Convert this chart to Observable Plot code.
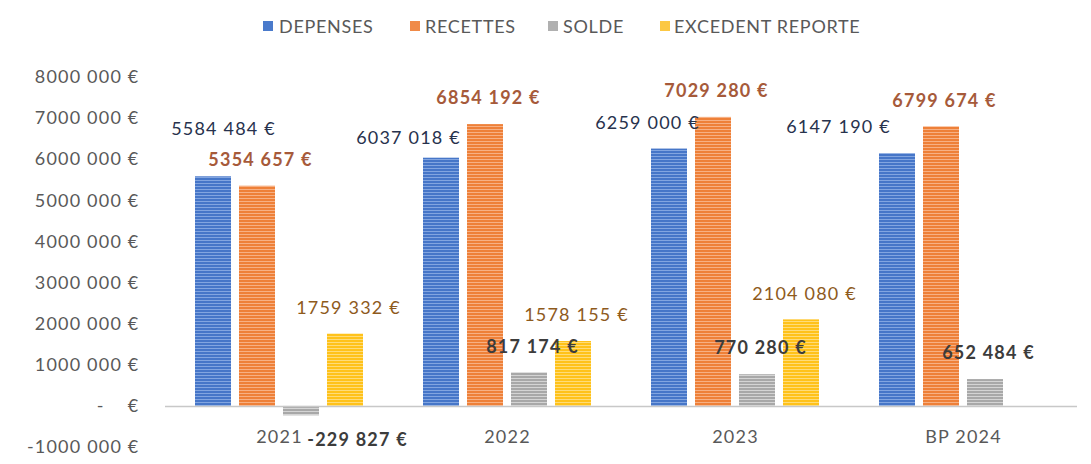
<!DOCTYPE html>
<html>
<head>
<meta charset="utf-8">
<script src="https://cdn.jsdelivr.net/npm/d3@7"></script>
<script src="https://cdn.jsdelivr.net/npm/@observablehq/plot@0.6"></script>
<style>
  html, body { margin: 0; padding: 0; background: #fff; }
  #wrap { position: relative; width: 1091px; height: 464px; overflow: hidden; }
  #legend { position: relative; height: 52px; font-family: Lato, sans-serif; font-size: 18px; color: #595959; }
  .item { position: absolute; top: 15px; display: flex; align-items: center; white-space: nowrap; letter-spacing: 0.7px; }
  .sw { width: 10px; height: 10px; margin-right: 6px; }
  svg text { letter-spacing: 1.2px; }
</style>
</head>
<body>
<div id="wrap">
  <div id="legend"></div>
  <div id="chart"></div>
</div>
<script>
// ---- data ----
const years = ["2021", "2022", "2023", "BP 2024"];
const series = ["DEPENSES", "RECETTES", "SOLDE", "EXCEDENT REPORTE"];
const depenses = [5584484, 6037018, 6259000, 6147190];
const recettes = [5354657, 6854192, 7029280, 6799674];
const solde = [-229827, 817174, 770280, 652484];
const excedent = [1759332, 1578155, 2104080, null];
const yTicks = [-1000000, 0, 1000000, 2000000, 3000000, 4000000, 5000000, 6000000, 7000000, 8000000];

// ---- styles ----
const baseColors = ["#4676c8", "#ee8038", "#a8a8a8", "#ffc21a"];
const lightColors = ["#82a5e0", "#f7b083", "#d4d4d4", "#ffdc78"];
const legendColors = ["#4a7acb", "#f08a48", "#b0b0b0", "#fcc844"];
const labelColors = ["#27324d", "#a65a3a", "#3c3c3c", "#8e5a1c"];
const labelWeights = ["normal", "bold", "bold", "normal"];
const defaultNudge = [3, -26];
const labelNudge = {
  "DEPENSES|2021": [10, -48],
  "DEPENSES|2022": [-33, -20],
  "DEPENSES|2023": [-22, -26],
  "DEPENSES|BP 2024": [-59, -26],
  "SOLDE|2021": [56, 24]
};

const valuesBySeries = [depenses, recettes, solde, excedent];
const rows = years.flatMap((yr, i) =>
  series.map((s, j) => ({year: yr, series: s, value: valuesBySeries[j][i]}))
).filter(d => d.value != null);

const nb = "\u00a0";
function fmt(v) {
  const a = Math.abs(v);
  const sign = v < 0 ? "-" : "";
  const th = Math.floor(a / 1000);
  const rest = String(Math.round(a % 1000)).padStart(3, "0");
  return th > 0 ? `${sign}${th}${nb}${rest}${nb}€` : `${sign}${rest}${nb}€`;
}
function fmtAxis(v) {
  return v === 0 ? `-${nb}${nb}${nb}${nb}€` : fmt(v);
}

// legend
const legendPos = [[263, 279], [410, 425], [548, 563], [660, 674]];
const legend = document.getElementById("legend");
series.forEach((s, i) => {
  const it = document.createElement("div");
  it.className = "item";
  it.style.left = legendPos[i][0] + "px";
  const sw = document.createElement("span");
  sw.className = "sw";
  sw.style.background = legendColors[i];
  sw.style.marginRight = (legendPos[i][1] - legendPos[i][0] - 10) + "px";
  it.appendChild(sw);
  const t = document.createElement("span");
  t.textContent = s;
  it.appendChild(t);
  legend.appendChild(it);
});

const patternIds = series.map((s, i) => `stripe${i}`);

const labelMarks = rows.map(d => {
  const j = series.indexOf(d.series);
  const [dx, dy] = labelNudge[`${d.series}|${d.year}`] || defaultNudge;
  return Plot.text([d], {
    fx: "year", x: "series", y: "value",
    text: r => fmt(r.value),
    dx, dy,
    fill: labelColors[j],
    fontWeight: labelWeights[j],
    fontSize: 18
  });
});

const yearRows = years.map(y => ({year: y, base: 0}));

const chart = Plot.plot({
  width: 1091,
  height: 412,
  marginTop: 25,
  marginBottom: 17,
  marginLeft: 163,
  marginRight: 13,
  style: {fontFamily: "Lato, sans-serif", fontSize: "18px", color: "#595959", background: "transparent", overflow: "visible"},
  fx: {domain: years, padding: 0, axis: null},
  x: {domain: series, paddingInner: 0.183, paddingOuter: 0.65, axis: null},
  y: {domain: [-1000000, 8000000], axis: null},
  color: {domain: series, range: patternIds.map(id => `url(#${id})`)},
  marks: [
    Plot.axisY({ticks: yTicks, tickSize: 0, tickPadding: 26, tickFormat: fmtAxis, fontSize: 18, fill: "#595959"}),
    Plot.barY(rows, {fx: "year", x: "series", y: "value", fill: "series"}),
    Plot.ruleY([0], {stroke: "#c8c8c8", strokeWidth: 1.5}),
    Plot.text(yearRows, {fx: "year", y: "base", text: "year", dy: 31, fill: "#595959", fontSize: 18}),
    ...labelMarks
  ]
});

// stripe patterns emulating the scanned bars
const ns = "http://www.w3.org/2000/svg";
const defs = document.createElementNS(ns, "defs");
series.forEach((s, i) => {
  const p = document.createElementNS(ns, "pattern");
  p.setAttribute("id", patternIds[i]);
  p.setAttribute("patternUnits", "userSpaceOnUse");
  p.setAttribute("width", "6");
  p.setAttribute("height", "3");
  const r1 = document.createElementNS(ns, "rect");
  r1.setAttribute("width", "6"); r1.setAttribute("height", "3"); r1.setAttribute("fill", baseColors[i]);
  const r2 = document.createElementNS(ns, "rect");
  r2.setAttribute("y", "2"); r2.setAttribute("width", "6"); r2.setAttribute("height", "1"); r2.setAttribute("fill", lightColors[i]);
  p.appendChild(r1); p.appendChild(r2);
  defs.appendChild(p);
});
chart.insertBefore(defs, chart.firstChild);

document.getElementById("chart").appendChild(chart);
</script>
</body>
</html>
